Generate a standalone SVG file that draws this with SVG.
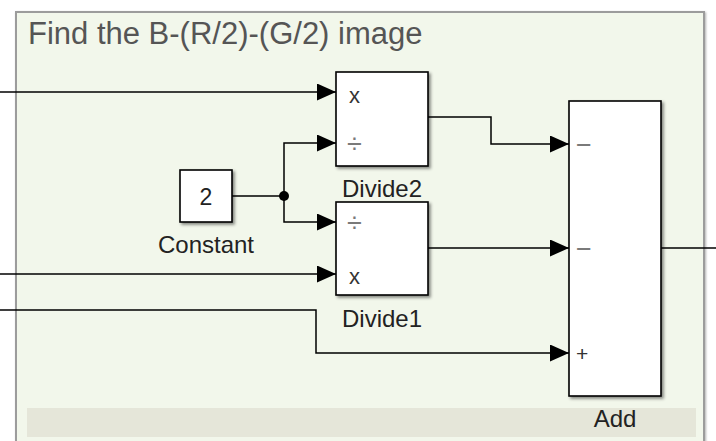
<svg xmlns="http://www.w3.org/2000/svg" width="716" height="441" viewBox="0 0 716 441">
  <defs>
    <filter id="shadow" x="-20%" y="-20%" width="140%" height="140%">
      <feDropShadow dx="2" dy="2" stdDeviation="1.8" flood-color="#000" flood-opacity="0.45"/>
    </filter>
    <filter id="areaShadow" x="-5%" y="-5%" width="110%" height="110%">
      <feDropShadow dx="1" dy="1" stdDeviation="1" flood-color="#000" flood-opacity="0.3"/>
    </filter>
    <marker id="arrow" viewBox="0 0 19 17" refX="19" refY="8.5" markerWidth="19" markerHeight="17" markerUnits="userSpaceOnUse" orient="auto">
      <path d="M0,0 L19,8.5 L0,17 Z" fill="#000"/>
    </marker>
  </defs>
  <style>
    .block { fill: #fff; stroke: #000; stroke-width: 1.6; filter: url(#shadow); }
    .wire { fill: none; stroke: #000; stroke-width: 1.5; }
    .label { font-family: "Liberation Sans", Arial, sans-serif; font-size: 24px; fill: #222; text-anchor: middle; }
    .port { font-family: "Liberation Sans", Arial, sans-serif; font-size: 22px; fill: #333; }
    .portdim { font-family: "Liberation Sans", Arial, sans-serif; font-size: 27px; fill: #7a7a7a; }
    .title { font-family: "Liberation Sans", Arial, sans-serif; font-size: 31px; fill: #555; }
  </style>

  <rect width="716" height="441" fill="#fff"/>

  <!-- Annotation area -->
  <g id="area">
    <rect x="16" y="12" width="688" height="440" fill="#F2F7EB" stroke="#9C9C9C" stroke-width="2" filter="url(#areaShadow)"/>
    <rect x="27" y="408" width="669" height="29" fill="#E5E6D9"/>
    <text class="title" x="28" y="44">Find the B-(R/2)-(G/2) image</text>
  </g>

  <!-- Signal lines -->
  <g id="connectors">
    <path class="wire" d="M0,92 H336" marker-end="url(#arrow)"/>
    <path class="wire" d="M232,196 H284 V143 H336" marker-end="url(#arrow)"/>
    <path class="wire" d="M284,196 V222 H336" marker-end="url(#arrow)"/>
    <path class="wire" d="M0,274 H336" marker-end="url(#arrow)"/>
    <path class="wire" d="M428,117 H491 V144 H569" marker-end="url(#arrow)"/>
    <path class="wire" d="M428,248 H569" marker-end="url(#arrow)"/>
    <path class="wire" d="M0,310 H316 V353 H569" marker-end="url(#arrow)"/>
    <path class="wire" d="M661,248 H716"/>
    <circle cx="284" cy="196" r="5" fill="#000"/>
  </g>

  <!-- Constant block -->
  <g id="constant">
    <rect class="block" x="180" y="170" width="52" height="52"/>
    <text class="label" x="206" y="205" style="font-size:23px">2</text>
    <text class="label" x="206" y="253">Constant</text>
  </g>

  <!-- Divide2 block -->
  <g id="divide2">
    <rect class="block" x="336" y="72" width="92" height="94"/>
    <text class="port" x="349" y="103">x</text>
    <text class="portdim" x="347" y="153">÷</text>
    <text class="label" x="382" y="197">Divide2</text>
  </g>

  <!-- Divide1 block -->
  <g id="divide1">
    <rect class="block" x="336" y="202" width="92" height="93"/>
    <text class="portdim" x="347" y="232">÷</text>
    <text class="port" x="349" y="284">x</text>
    <text class="label" x="382" y="327">Divide1</text>
  </g>

  <!-- Add block -->
  <g id="add">
    <rect class="block" x="569" y="101" width="92" height="295"/>
    <text class="portdim" x="576" y="154">−</text>
    <text class="portdim" x="576" y="258">−</text>
    <text class="port" x="576" y="361" style="font-size:21px">+</text>
    <text class="label" x="615" y="427">Add</text>
  </g>
</svg>
